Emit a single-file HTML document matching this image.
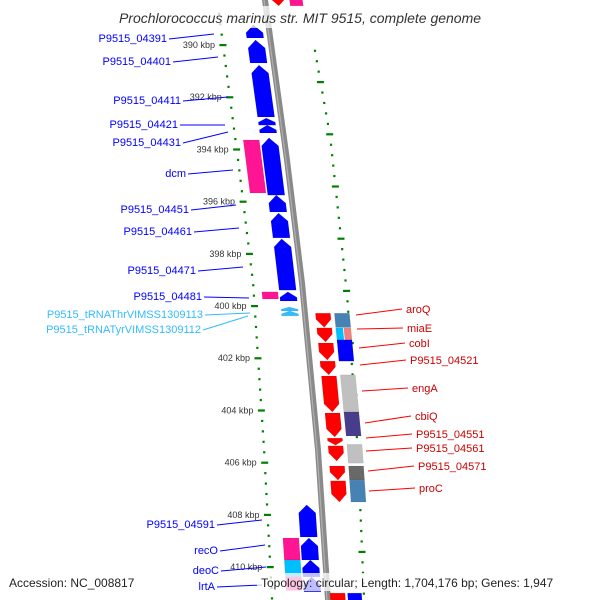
<!DOCTYPE html>
<html><head><meta charset="utf-8"><style>
html,body{margin:0;background:#fff;width:600px;height:600px;overflow:hidden;position:relative;}
svg{display:block;font-family:"Liberation Sans",sans-serif;overflow:hidden;}
</style></head><body>
<svg id="map" width="600" height="600" viewBox="0 0 600 600">
<g id="ticks"></g>
<g id="backbone"></g>
<g id="genes"></g>
<g id="labels"></g>
</svg>
<script>
// ---- data ----
const kbpTicks = [390,392,394,396,398,400,402,404,406,408,410];
// left (reverse strand) genes: [start kbp, end kbp, color]
const revGenes = [[389.23,389.73,"#0000ff"],[389.81,390.69,"#0000ff"],[390.77,392.76,"#0000ff"],[392.80,393.07,"#0000ff"],[393.07,393.37,"#0000ff"],[393.56,395.75,"#0000ff"],[395.75,396.40,"#0000ff"],[396.44,397.39,"#0000ff"],[397.43,399.39,"#0000ff"],[399.46,399.81,"#0000ff"],[400.04,400.19,"#33bbff"],[400.19,400.38,"#33bbff"],[407.62,408.85,"#0000ff"],[408.89,409.73,"#0000ff"],[409.73,410.38,"#0000ff"],[410.38,410.95,"#0000ff"]];
const revBoxes = [[393.64,395.67,"#ff1493"],[399.46,399.73,"#ff1493"],[408.89,409.73,"#ff1493"],[409.73,410.38,"#00bfff"],[410.38,410.9,"#ff1493"]];
const fwdGenes = [[400.28,400.82,"#ff0000"],[400.84,401.38,"#ff0000"],[401.42,402.07,"#ff0000"],[402.11,402.64,"#ff0000"],[402.68,404.06,"#ff0000"],[404.10,405.02,"#ff0000"],[405.06,405.33,"#ff0000"],[405.36,405.94,"#ff0000"],[406.13,406.67,"#ff0000"],[406.70,407.51,"#ff0000"]];
const fwdBoxes = [[400.28,400.82,"#4682b4"],[400.84,401.42,"#00bfff"],[400.84,401.42,"#f08080"],[401.30,402.11,"#0000ff"],[402.64,404.06,"#c0c0c0"],[404.06,404.98,"#483d8b"],[405.30,406.02,"#c0c0c0"],[406.13,406.67,"#696969"],[406.67,407.51,"#4682b4"]];
const leftLabels = [["P9515_04391",38,214,34],["P9515_04401",61,218,57],["P9515_04411",100,228,97],["P9515_04421",124,225,125],["P9515_04431",142,228,132],["dcm",173,233,170],["P9515_04451",209,236,205],["P9515_04461",231,239,228],["P9515_04471",270,243,267],["P9515_04481",296,249,298],["P9515_tRNAThrVIMSS1309113",314,250,313],["P9515_tRNATyrVIMSS1309112",329,248,316],["P9515_04591",524,262,520],["recO",550,265,545],["deoC",570,266,567],["lrtA",586,262,585]];
const rightLabels = [["aroQ",309,356,315],["miaE",328,357,329],["cobI",343,359,348],["P9515_04521",360,360,365],["engA",388,362,391],["cbiQ",416,365,423],["P9515_04551",434,366,438],["P9515_04561",448,366,451],["P9515_04571",466,368,471],["proC",488,369,491]];

// ---- axes ----
const NS="http://www.w3.org/2000/svg";
function yOf(k){return 45+(k-390)*26.1;}
function interp(pts,y){for(let i=0;i<pts.length-1;i++){const a=pts[i],b=pts[i+1];if(y<=b[1]||i==pts.length-2){return a[0]+(b[0]-a[0])*(y-a[1])/(b[1]-a[1]);}}}
const bbPts=[[265,0],[287,160],[302,283],[318,450],[328,600]];
const lPts=[[221,30],[238,160],[253,283],[264,450],[272,600]];
const rPts=[[313,40],[330,136],[347,295],[358,455],[364,600]];
function bx(y){return interp(bbPts,y);}
function mk(tag,attrs,parent){const e=document.createElementNS(NS,tag);for(const k in attrs)e.setAttribute(k,attrs[k]);parent.appendChild(e);return e;}

const tk=document.getElementById('ticks');
for(let i=0;i<60;i++){
  const k=388.8+i*0.4;
  const y=yOf(k);const x=interp(lPts,y);
  const isMaj=Math.abs(k-Math.round(k))<0.05&&Math.round(k)%2==0;
  const d=mk('rect',{x:isMaj?x-3.5:x-1,y:y-1,width:isMaj?7:2.2,height:2.2,fill:"#008000"},tk);
  
  
  const y2=yOf(k)+37;const x2=interp(rPts,y2);
  const d2=mk('rect',{x:isMaj?x2-3.5:x2-1,y:y2-1,width:isMaj?7:2.2,height:2.2,fill:"#008000"},tk);
  
  
}
kbpTicks.forEach(k=>{const y=yOf(k);const x=interp(lPts,y);
  const t=mk('text',{x:x-8,y:y+3,'font-size':9,'text-anchor':'end',fill:"#333"},tk);t.textContent=k+" kbp";
  
  });

const bb=document.getElementById('backbone');
let pts1=bbPts.map(p=>(p[0]-3)+","+p[1]).join(" ");
let pts2=bbPts.slice().reverse().map(p=>(p[0]+3)+","+p[1]).join(" ");
mk('polygon',{points:pts1+" "+pts2,fill:"#8a8a8a"},bb);
mk('polyline',{points:bbPts.map(p=>(p[0]-1)+","+p[1]).join(" "),fill:"none",stroke:"#b0b0b0","stroke-width":1.2},bb);

const g=document.getElementById('genes');
function feat(s,e,col,off,w,dir,name){
  const y1=yOf(s),y2=yOf(e);const len=y2-y1;
  const xa=bx(y1)+off,xb=bx(y2)+off;
  let p;
  if(dir==0){p=[[xa-w/2,y1],[xa+w/2,y1],[xb+w/2,y2],[xb-w/2,y2]];}
  else{const h=Math.min(8,len*0.6);
    if(dir<0){const xm=bx(y1+h)+off;p=[[xa,y1],[xm+w/2,y1+h],[xb+w/2,y2],[xb-w/2,y2],[xm-w/2,y1+h]];}
    else{const xm=bx(y2-h)+off;p=[[xa-w/2,y1],[xa+w/2,y1],[xm+w/2,y2-h],[xb,y2],[xm-w/2,y2-h]];}}
  const el=mk('polygon',{points:p.map(q=>q.join(",")).join(" "),fill:col,stroke:"rgba(0,0,0,0.12)","stroke-width":0.5},g);
  
  
}
revGenes.forEach(r=>feat(r[0],r[1],r[2],-15,17,-1,'reverse-gene'));
revBoxes.forEach(r=>feat(r[0],r[1],r[2],-33,16,0,'cog-box'));
fwdGenes.forEach(r=>feat(r[0],r[1],r[2],18,15,1,'forward-gene'));
fwdBoxes.forEach((r,i)=>{let off=37,w=15;if(i==1){off=33;w=7;}if(i==2){off=41;w=7;}feat(r[0],r[1],r[2],off,w,0,'cog-box');});
feat(388.1,388.5,"#ff0000",13,13,1,'forward-gene');
feat(388.1,388.5,"#ff1493",31,13,0,'cog-box');
feat(411.0,411.6,"#ff0000",10,15,1,'forward-gene');
feat(411.0,411.6,"#0000ff",27,14,0,'cog-box');

const lb=document.getElementById('labels');
leftLabels.forEach(l=>{const col=l[0].indexOf('tRNA')>=0?"#33bbff":"#0000ff";
  const t=mk('text',{x:l[2]-47,y:l[1]+4,'font-size':11,'text-anchor':'end',fill:col},lb);
  t.textContent=l[0];
  
  
  const ln=mk('line',{x1:l[2]-45,y1:l[1]+1,x2:l[2],y2:l[3],stroke:col,'stroke-width':1},lb);
  
  
});
rightLabels.forEach(l=>{
  const ln=mk('line',{x1:l[2],y1:l[3],x2:l[2]+46,y2:l[1],stroke:"#ff0000",'stroke-width':1},lb);
  
  
  const t=mk('text',{x:l[2]+50,y:l[1]+4,'font-size':11,fill:"#cc0000"},lb);
  t.textContent=l[0];
  
  
});
</script>
<svg width="600" height="600" style="position:absolute;left:0;top:0">
<rect x="95" y="6" width="410" height="22" fill="rgba(255,255,255,0.75)"/>
<text x="300" y="23" font-size="14" font-style="italic" text-anchor="middle" fill="#333" font-family="Liberation Sans,sans-serif">Prochlorococcus marinus str. MIT 9515, complete genome</text>
<rect x="5" y="573" width="140" height="18" fill="rgba(255,255,255,0.75)"/>
<rect x="257" y="573" width="338" height="18" fill="rgba(255,255,255,0.75)"/>
<text x="9" y="587" font-size="12" fill="#222" font-family="Liberation Sans,sans-serif">Accession: NC_008817</text>
<text x="261" y="587" font-size="12" fill="#222" font-family="Liberation Sans,sans-serif">Topology: circular; Length: 1,704,176 bp; Genes: 1,947</text>
</svg>
</body></html>
